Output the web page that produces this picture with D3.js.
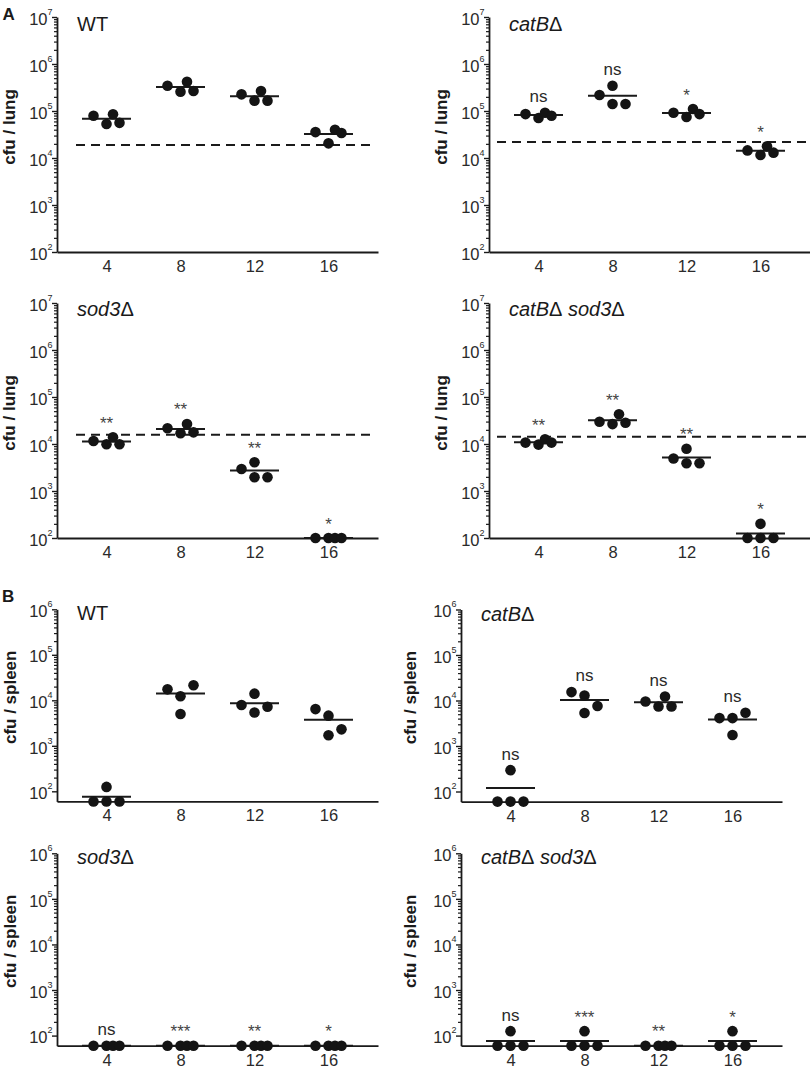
<!DOCTYPE html>
<html><head><meta charset="utf-8">
<script src="https://cdn.jsdelivr.net/npm/d3@7"></script>
<style>
html,body{margin:0;padding:0;background:#fff;}
svg text{font-family:"Liberation Sans",Arial,Helvetica,sans-serif;}
</style></head><body>
<svg id="chart" width="810" height="1071"></svg>
<script>
// ---------------- data ----------------
const days = [4, 8, 12, 16];
const lungTicks = [1e2, 1e3, 1e4, 1e5, 1e6, 1e7];
const spleenTicks = [1e2, 1e3, 1e4, 1e5, 1e6];
const lungDomain = [1e2, 1e7];
const spleenDomain = [60, 1e6];

// cfu per lung, four mice per day (days 4, 8, 12, 16)
const lungWT = [
  [79000, 53000, 85000, 56000],
  [345000, 257000, 420000, 267000],
  [226000, 166000, 267000, 166000],
  [35600, 20500, 40000, 34000]
];
const lungCatB = [
  [86000, 71000, 92000, 79000],
  [219000, 345000, 141000, 141000],
  [92000, 74500, 110000, 86000],
  [14500, 11600, 17700, 13000]
];
const lungSod3 = [
  [11600, 9900, 13900, 9900],
  [21600, 16900, 26700, 17700],
  [2940, 4080, 1960, 1960],
  [100, 100, 100, 100]
];
const lungCatBSod3 = [
  [10700, 9700, 12600, 10700],
  [29800, 26500, 42900, 28400],
  [4900, 7900, 3900, 3900],
  [100, 200, 100, 100]
];
// inoculum (dashed line) per lung panel: WT, catB, sod3, catB sod3
const lungInoculum = [19000, 22000, 15800, 14300];

// cfu per spleen
const spleenWT = [
  [60, 125, 60, 60],
  [17400, 12300, 5000, 21500],
  [7900, 14000, 5400, 7200],
  [6400, 4600, 1700, 2300]
];
const spleenCatB = [
  [60, 295, 60, 60],
  [15300, 12900, 5300, 7600],
  [9500, 7400, 12200, 7400],
  [4100, 4100, 1750, 5400]
];
const spleenSod3 = [
  [60, 60, 60, 60],
  [60, 60, 60, 60],
  [60, 60, 60, 60],
  [60, 60, 60, 60]
];
const spleenCatBSod3 = [
  [60, 125, 60, 60],
  [60, 125, 60, 60],
  [60, 60, 60, 60],
  [60, 125, 60, 60]
];

// significance labels
const sigLungWT = [null, null, null, null];
const sigLungCatB = ["ns", "ns", "*", "*"];
const sigLungSod3 = ["**", "**", "**", "*"];
const sigLungCatBSod3 = ["**", "**", "**", "*"];
const sigSpleenWT = [null, null, null, null];
const sigSpleenCatB = ["ns", "ns", "ns", "ns"];
const sigSpleenSod3 = ["ns", "***", "**", "*"];
const sigSpleenCatBSod3 = ["ns", "***", "**", "*"];

// titles: [text, italic]
const titleWT = [["WT", false]];
const titleCatB = [["catB", true], ["\u0394", false]];
const titleSod3 = [["sod3", true], ["\u0394", false]];
const titleCatBSod3 = [["catB", true], ["\u0394", false], [" sod3", true], ["\u0394", false]];

// ---------------- layout ----------------
const svg = d3.select("#chart");
svg.append("rect").attr("width", 810).attr("height", 1071).attr("fill", "#fff");

const INK = "#1a1a1a";
const AXIS_W = 321;
const DOT_R = 5.3;

const panels = [
  {ox: 57,  oy: 17,    h: 235,   domain: lungDomain, ticks: lungTicks, vals: lungWT, sig: sigLungWT, ino: lungInoculum[0], title: titleWT, ylab: "cfu / lung", labDx: 46, labDy: 110, titleDy: 13.7, dash: [19, 319]},
  {ox: 489, oy: 17,    h: 235,   domain: lungDomain, ticks: lungTicks, vals: lungCatB, sig: sigLungCatB, ino: lungInoculum[1], title: titleCatB, ylab: "cfu / lung", labDx: 46, labDy: 110, titleDy: 13.7, dash: [8, 321]},
  {ox: 57,  oy: 303,   h: 235,   domain: lungDomain, ticks: lungTicks, vals: lungSod3, sig: sigLungSod3, ino: lungInoculum[2], title: titleSod3, ylab: "cfu / lung", labDx: 46, labDy: 110, titleDy: 12.7, dash: [19, 319]},
  {ox: 489, oy: 303,   h: 235,   domain: lungDomain, ticks: lungTicks, vals: lungCatBSod3, sig: sigLungCatBSod3, ino: lungInoculum[3], title: titleCatBSod3, ylab: "cfu / lung", labDx: 46, labDy: 110, titleDy: 12.7, dash: [8, 321]},
  {ox: 57,  oy: 609.3, h: 192.1, domain: spleenDomain, ticks: spleenTicks, vals: spleenWT, sig: sigSpleenWT, ino: null, title: titleWT, ylab: "cfu / spleen", labDx: 45.5, labDy: 88, titleDy: 11, dash: null},
  {ox: 461, oy: 609.5, h: 192.1, domain: spleenDomain, ticks: spleenTicks, vals: spleenCatB, sig: sigSpleenCatB, ino: null, title: titleCatB, ylab: "cfu / spleen", labDx: 49, labDy: 88, titleDy: 11, dash: null},
  {ox: 57,  oy: 853.3, h: 192.4, domain: spleenDomain, ticks: spleenTicks, vals: spleenSod3, sig: sigSpleenSod3, ino: null, title: titleSod3, ylab: "cfu / spleen", labDx: 45.5, labDy: 88, titleDy: 10.5, dash: null},
  {ox: 461, oy: 853.3, h: 192.4, domain: spleenDomain, ticks: spleenTicks, vals: spleenCatBSod3, sig: sigSpleenCatBSod3, ino: null, title: titleCatBSod3, ylab: "cfu / spleen", labDx: 49, labDy: 88, titleDy: 10.5, dash: null}
];

function drawPanel(p) {
  const g = svg.append("g").attr("transform", `translate(${p.ox},${p.oy})`);
  const x = d3.scalePoint().domain(days).range([0, AXIS_W]).padding(0.669);
  const y = d3.scaleLog().domain(p.domain).range([p.h, 0]);

  // minor ticks
  const minors = [];
  const lo = Math.log10(p.ticks[0]), hi = Math.log10(p.ticks[p.ticks.length - 1]);
  for (let e = lo; e < hi; e++) for (let k = 2; k <= 9; k++) minors.push(k * Math.pow(10, e));
  const minorAxis = g.append("g").call(d3.axisLeft(y).tickValues(minors).tickSize(3).tickSizeOuter(0).tickFormat(""));
  minorAxis.select(".domain").remove();
  minorAxis.selectAll("line").attr("stroke", INK).attr("stroke-width", 1.2);

  // major ticks + y axis line
  const yAx = g.append("g").call(d3.axisLeft(y).tickValues(p.ticks).tickSize(5).tickSizeOuter(0).tickFormat(""));
  yAx.select(".domain").attr("stroke", INK).attr("stroke-width", 1.8);
  yAx.selectAll(".tick line").attr("stroke", INK).attr("stroke-width", 1.4);

  // y tick labels with superscripts
  p.ticks.forEach(t => {
    const txt = g.append("text")
      .attr("x", -4.5).attr("y", y(t) + 7.7)
      .attr("text-anchor", "end").attr("fill", "#2a2a2a")
      .style("font-size", "16.5px");
    txt.append("tspan").text("10");
    txt.append("tspan").attr("dy", -10).style("font-size", "9px").text(Math.round(Math.log10(t)));
  });

  // x axis
  const xAx = g.append("g").attr("transform", `translate(0,${p.h})`)
    .call(d3.axisBottom(x).tickSize(0).tickSizeOuter(0).tickPadding(8.3));
  xAx.select(".domain").attr("stroke", INK).attr("stroke-width", 1.8);
  xAx.selectAll("text").attr("fill", "#2a2a2a").style("font-size", "16.5px")
    .style("font-family", '"Liberation Sans",Arial,sans-serif');

  // y-axis label
  g.append("text")
    .attr("transform", `translate(${-p.labDx},${p.labDy}) rotate(-90)`)
    .attr("text-anchor", "middle").attr("dy", "0.26em")
    .attr("fill", INK).style("font-size", "17px").style("font-weight", "bold")
    .text(p.ylab);

  // title
  const tt = g.append("text").attr("x", 20).attr("y", p.titleDy)
    .attr("fill", INK).style("font-size", "20px");
  p.title.forEach(([s, it]) => tt.append("tspan").style("font-style", it ? "italic" : "normal").text(s));

  // inoculum dashed line
  if (p.ino != null) {
    g.append("line")
      .attr("x1", p.dash[0]).attr("x2", p.dash[1])
      .attr("y1", y(p.ino)).attr("y2", y(p.ino))
      .attr("stroke", INK).attr("stroke-width", 2).attr("stroke-dasharray", "9,6");
  }

  // groups
  p.vals.forEach((vals, i) => {
    const cx = x(days[i]);
    const ys = vals.map(v => y(v));
    const offs = [-13, 0, 0, 13];
    if (Math.abs(ys[1] - ys[2]) < 13.9) offs[2] = 6.5;
    const m = d3.mean(vals);
    g.append("line")
      .attr("x1", cx - 24.5).attr("x2", cx + 24.5)
      .attr("y1", y(m)).attr("y2", y(m))
      .attr("stroke", INK).attr("stroke-width", 2);
    g.selectAll(null).data(vals.map((v, j) => ({x: cx + offs[j], y: ys[j]})))
      .enter().append("circle")
      .attr("cx", d => d.x).attr("cy", d => d.y).attr("r", DOT_R)
      .attr("fill", "#141414");
    const s = p.sig[i];
    if (s) {
      const top = d3.min(ys);
      g.append("text")
        .attr("x", cx).attr("y", s === "ns" ? top - 10.6 : top - 8.5)
        .attr("text-anchor", "middle").attr("fill", s === "ns" ? "#2a2a2a" : "#444")
        .style("font-size", "17px")
        .text(s);
    }
  });
}

panels.forEach(drawPanel);

// panel letters
svg.append("text").attr("x", 2.5).attr("y", 20).attr("fill", INK)
  .style("font-size", "17px").style("font-weight", "bold").text("A");
svg.append("text").attr("x", 2).attr("y", 601.5).attr("fill", INK)
  .style("font-size", "17px").style("font-weight", "bold").text("B");
</script>
</body></html>
